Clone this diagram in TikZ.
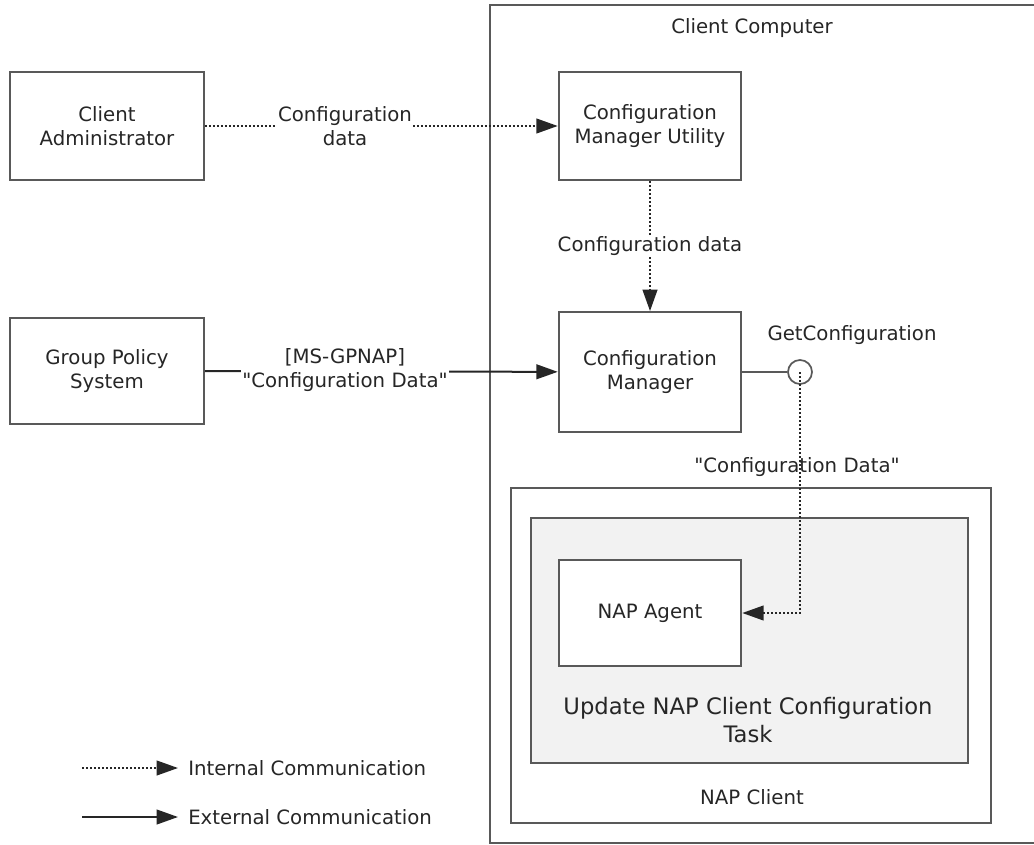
\documentclass[tikz,border=0pt]{standalone}
\usepackage{fontspec}
\setmainfont{DejaVu Sans}
\usetikzlibrary{positioning,calc,arrows.meta}
\definecolor{MSline}{HTML}{595959}
\definecolor{MSfill}{HTML}{F2F2F2}
\definecolor{MStext}{HTML}{262626}
\newcommand{\qd}{\textquotedbl}

\begin{document}
\begin{tikzpicture}[x=0.75pt,y=-0.75pt,font=\fontsize{14.8}{18.5}\selectfont,text=MStext,
  blk/.style={draw=MSline,line width=1.4pt,fill=white,align=center,minimum width=137pt,minimum height=81pt},
  intcom/.style={draw=black!85,line width=1.5pt,dash pattern=on 1.6pt off 1.4pt,-{Triangle[length=16pt,width=11pt]}},
  extcom/.style={draw=black!85,line width=1.5pt,-{Triangle[length=16pt,width=11pt]}},
  lbl/.style={fill=white,align=center,inner sep=1pt}]
\useasboundingbox (0,0) rectangle (1034,845);
% containers
\begin{scope}
\clip (0,0) rectangle (1034,845);
\draw[MSline,line width=1.4pt] (490,5) rectangle (1050,843);
\end{scope}
\node (cclbl) at (752,28) {Client Computer};
\draw[MSline,line width=1.4pt] (511,488) rectangle (991,823);
\node (napclbl) at (752,797) {NAP Client};
\draw[MSline,line width=1.4pt,fill=MSfill] (531,518) rectangle (968,763);
\node[align=center,font=\fontsize{17}{21}\selectfont] (tasklbl) at (748,720) {Update NAP Client Configuration\\Task};
% blocks
\node[blk,minimum width=145.5pt] (admin) at (107,126) {Client\\Administrator};
\node[blk,minimum width=145.5pt,minimum height=80pt] (gps) at (107,371) {Group Policy\\System};
\node[blk] (cmu) at (650,126) {Configuration\\Manager Utility};
\node[blk,minimum height=90pt] (cfgmgr) at (650,372) {Configuration\\Manager};
\node[blk,minimum height=80pt] (agent) at (650,613) {NAP Agent};
\node[circle,draw=MSline,line width=1.3pt,fill=white,minimum size=18pt,inner sep=0] (iface) at (800,372) {};
\node (ifacelbl) at (852,335) {GetConfiguration};
% connectors
\draw[intcom] (admin) -- (cmu);
\node[lbl] (adminlbl) at (345,126) {Configuration\\data};
\draw[intcom] (cmu) -- node[lbl] (cmulbl) {Configuration data} (cfgmgr);
\draw[extcom] (gps) -- (cfgmgr);
\node[lbl] (gpslbl) at (345,370) {[MS-GPNAP]\\\qd Configuration Data\qd};
\draw[MSline,line width=1.4pt] (cfgmgr) -- (iface);
\draw[intcom] (iface.center) |- (agent);
\node (datalbl) at (797,467) {\qd Configuration Data\qd};
% legend
\coordinate (intA) at (82,768);
\coordinate (intB) at (178,768);
\coordinate (extA) at (82,817);
\coordinate (extB) at (178,817);
\draw[intcom] (intA) -- (intB);
\draw[extcom] (extA) -- (extB);
\node[right,inner sep=0] (intlbl) at (188,768) {Internal Communication};
\node[right,inner sep=0] (extlbl) at (188,817) {External Communication};
\end{tikzpicture}
\end{document}
